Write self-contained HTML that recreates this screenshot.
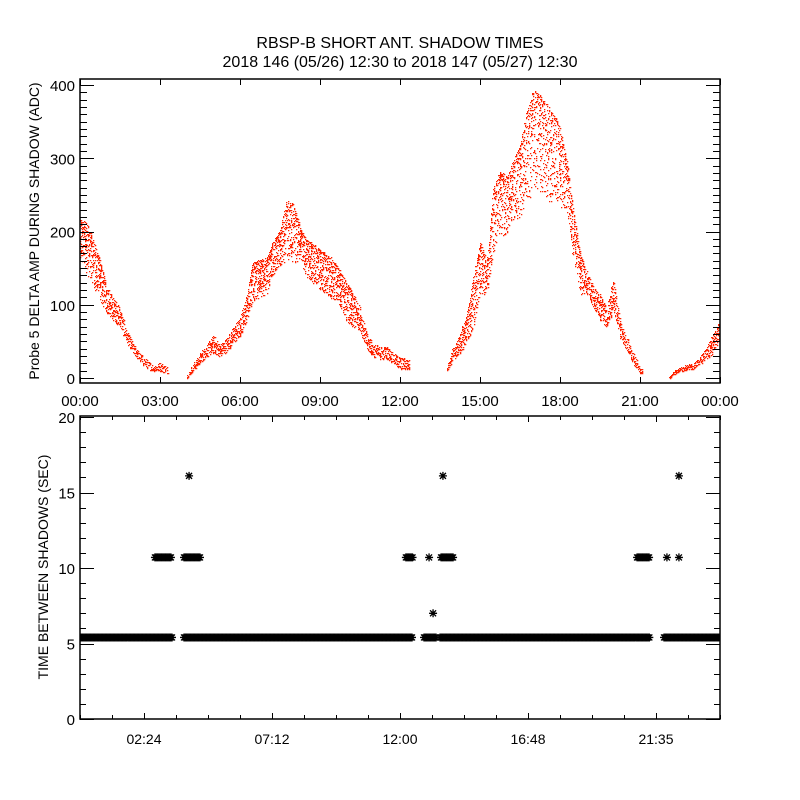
<!DOCTYPE html>
<html><head><meta charset="utf-8">
<style>
html,body{margin:0;padding:0;background:#fff;}
svg{display:block;font-family:"Liberation Sans",sans-serif;}
</style></head>
<body>
<svg id="chart" width="800" height="800" viewBox="0 0 800 800">
<defs><clipPath id="botclip"><rect x="80" y="416" width="640" height="303"/></clipPath>
<clipPath id="topclip"><rect x="80" y="79" width="640" height="304"/></clipPath></defs>
<text x="400" y="48" text-anchor="middle" font-size="16">RBSP-B SHORT ANT. SHADOW TIMES</text>
<text x="400" y="67" text-anchor="middle" font-size="16">2018 146 (05/26) 12:30 to 2018 147 (05/27) 12:30</text>
<g id="topg"></g>
<g id="botg"></g>
<text transform="translate(39,231) rotate(-90)" text-anchor="middle" font-size="14">Probe 5 DELTA AMP DURING SHADOW (ADC)</text>
<text transform="translate(48,567) rotate(-90)" text-anchor="middle" font-size="14">TIME BETWEEN SHADOWS (SEC)</text>
</svg>
<script>
// ---- top panel data (hours, low/high envelope of ADC) ----
const ampTimes = [0,0.25,0.5,0.75,1,1.25,1.5,1.75,2,2.25,2.5,2.75,3,3.3, 4.0,4.25,4.5,4.75,5,5.25,5.5,5.75,6,6.25,6.5,6.75,7,7.25,7.5,7.75,8,8.25,8.5,8.75,9,9.25,9.5,9.75,10,10.25,10.5,10.75,11,11.25,11.5,11.75,12,12.35, 13.2, 13.75,14,14.25,14.5,14.75,15,15.25,15.5,15.75,16,16.25,16.5,16.75,17,17.25,17.5,17.75,18,18.25,18.5,18.75,19,19.25,19.5,19.75,20,20.25,20.5,20.75,21,21.1, 22.1,22.25,22.5,22.75,23,23.25,23.5,23.75,24];
const ampLow = [165,143,125,106,88,79,70,47,34,22,13,9,9,6, 0,9,20,29,34,29,36,47,56,79,106,111,115,143,152,161,156,161,138,129,120,115,106,97,75,70,65,38,29,25,27,20,11,11, 0, 9,25,34,47,70,115,115,170,193,197,215,220,243,252,252,243,238,234,229,161,115,115,97,79,70,93,56,38,20,6,6, 0,4,9,11,13,18,25,34,52];
const ampHigh = [220,211,188,161,125,111,97,65,47,34,25,18,22,15, 4,20,34,47,59,45,56,70,84,115,161,161,165,188,202,243,238,206,188,184,175,170,161,147,129,115,97,61,47,43,43,34,29,25, 2, 18,43,61,88,138,188,161,261,284,275,297,320,365,393,388,375,361,343,297,229,170,147,125,115,97,134,79,56,34,15,11, 2,9,15,18,22,29,43,61,79];
const topYTicks = [0,100,200,300,400];
const topXLabels = ["00:00","03:00","06:00","09:00","12:00","15:00","18:00","21:00","00:00"];
// ---- bottom panel data ----
const segStart = [0, 3.9, 12.9, 13.5, 21.9];
const segEnd   = [3.45, 12.49, 13.39, 21.38, 24];
const segValue = [5.4, 5.4, 5.4, 5.4, 5.4];
const upStart = [2.81, 3.9, 12.22, 13.54, 20.89];
const upEnd   = [3.45, 4.5, 12.49, 14.03, 21.38];
const upValue = [10.7, 10.7, 10.7, 10.7, 10.7];
const ptTimes = [13.09, 22.01, 22.46, 4.09, 13.61, 22.46, 13.24];
const ptValues = [10.7, 10.7, 10.7, 16.1, 16.1, 16.1, 7.0];
const botYTicks = [0,5,10,15,20];
const botXLabels = ["02:24","07:12","12:00","16:48","21:35"];

const NS="http://www.w3.org/2000/svg";
function mk(tag,attrs,parent){const e=document.createElementNS(NS,tag);for(const k in attrs)e.setAttribute(k,attrs[k]);parent.appendChild(e);return e;}
const L=80,R=720;
const xS=h=>L+(R-L)*h/24;
const T0=79,T1=383;
const yT=v=>378-v*0.7325;
const topG=document.getElementById('topg');
const botG=document.getElementById('botg');
let seed=12345;function rnd(){seed=(seed*1103515245+12345)%2147483648;return seed/2147483648;}
let d="";
for(let i=0;i<ampTimes.length-1;i++){
  const t0=ampTimes[i],t1=ampTimes[i+1];
  if(t1-t0>0.45)continue;
  for(let t=t0;t<t1;t+=0.018){
    const f=(t-t0)/(t1-t0);
    const lo=ampLow[i]+(ampLow[i+1]-ampLow[i])*f;
    const hi=ampHigh[i]+(ampHigh[i+1]-ampHigh[i])*f;
    const span=yT(lo)-yT(hi);
    const n=Math.max(2,Math.min(7,Math.round(span/6)+1));
    for(let k=0;k<n;k++){
      const r=rnd();const bias=r*r*0.6+r*0.4;
      const v=lo+(hi-lo)*(span>30?(1-bias):r);
      const x=Math.round(xS(t)),y=Math.round(yT(v));
      d+="M"+x+" "+y+"h1.3v1.3h-1.3z";
    }
  }
}
const dots=mk('path',{d:d,fill:'#ff2200','clip-path':'url(#topclip)'},topG);


const tb=mk('rect',{x:L,y:T0,width:R-L,height:T1-T0,fill:'none',stroke:'#000','stroke-width':1.5},topG);


let tk="";
for(let v=0;v<=400;v+=10){const y=Math.round(yT(v))+0.5;const len=(v%100===0)?14:7;tk+=`M${L} ${y}h${len}M${R} ${y}h${-len}`;}
for(let h=0;h<=24;h+=3){const x=Math.round(xS(h))+0.5;tk+=`M${x} ${T0}v6M${x} ${T1}v-6`;}
const tt=mk('path',{d:tk,stroke:'#000','stroke-width':1,fill:'none'},topG);


topYTicks.forEach(v=>{const t=mk('text',{x:75,y:yT(v)+6,'text-anchor':'end','font-size':15},topG);t.textContent=v;

});
topXLabels.forEach((s,i)=>{const t=mk('text',{x:xS(i*3),y:406,'text-anchor':'middle','font-size':15},topG);t.textContent=s;

});
const B0=416,B1=719;
const yB=v=>719-v*15.1;
function star(x,y){return `M${x-4} ${y}h8M${x} ${y-4}v8M${x-3} ${y-3}l6 6M${x-3} ${y+3}l6 -6`;}
let sd="";
for(let i=0;i<segStart.length;i++){for(let t=segStart[i];t<=segEnd[i]+1e-6;t+=0.05)sd+=star(xS(t),yB(segValue[i]));}
for(let i=0;i<upStart.length;i++){for(let t=upStart[i];t<=upEnd[i]+1e-6;t+=0.05)sd+=star(xS(t),yB(upValue[i]));}
for(let i=0;i<ptTimes.length;i++)sd+=star(xS(ptTimes[i]),yB(ptValues[i]));
const st=mk('path',{d:sd,stroke:'#000','stroke-width':1.3,fill:'none','clip-path':'url(#botclip)'},botG);


const bb=mk('rect',{x:L,y:B0,width:R-L,height:B1-B0,fill:'none',stroke:'#000','stroke-width':1.5},botG);


let bk="";
for(let v=0;v<=20;v+=1){const y=Math.round(yB(v))+0.5;const len=(v%5===0)?14:6;bk+=`M${L} ${y}h${len}M${R} ${y}h${-len}`;}
for(let h=0;h<=24.01;h+=1.2){const x=Math.round(xS(h))+0.5;const len=(Math.round(h/1.2)%4===2)?6:4;bk+=`M${x} ${B0}v${len}M${x} ${B1}v${-len}`;}
const bt=mk('path',{d:bk,stroke:'#000','stroke-width':1,fill:'none'},botG);


botYTicks.forEach(v=>{const t=mk('text',{x:75,y:yB(v)+6,'text-anchor':'end','font-size':15},botG);t.textContent=v;

});
botXLabels.forEach((s,i)=>{const t=mk('text',{x:xS(2.4+i*4.8),y:744,'text-anchor':'middle','font-size':14},botG);t.textContent=s;

});
</script>
</body></html>
